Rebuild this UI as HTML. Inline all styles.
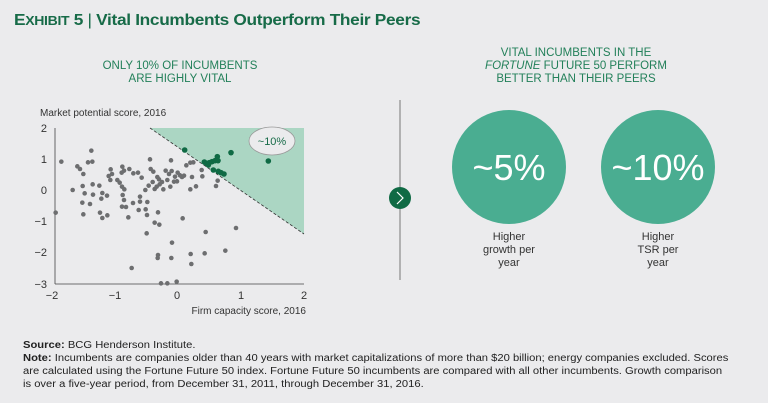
<!DOCTYPE html>
<html><head><meta charset="utf-8"><style>
body{margin:0;width:768px;height:403px;background:#ebebed;font-family:"Liberation Sans",sans-serif;overflow:hidden;position:relative}
.t{position:absolute;white-space:nowrap}
</style></head><body>
<div class="t" style="left:14px;top:12px;font-size:16px;font-weight:bold;color:#176b48;letter-spacing:-0.3px;transform:scaleX(1.08);transform-origin:left">E<span style="font-size:13px">XHIBIT</span> 5 <span style="font-weight:normal">|</span> Vital Incumbents Outperform Their Peers</div>
<div class="t" style="left:60px;top:60px;width:240px;text-align:center;font-size:11.5px;line-height:13px;color:#23805a">ONLY 10% OF INCUMBENTS<br>ARE HIGHLY VITAL</div>
<div class="t" style="left:456px;top:47px;width:240px;text-align:center;font-size:11.5px;line-height:13px;color:#23805a">VITAL INCUMBENTS IN THE<br><i>FORTUNE</i> FUTURE 50 PERFORM<br>BETTER THAN THEIR PEERS</div>
<svg width="768" height="403" style="position:absolute;left:0;top:0" id="s">
<polygon points="150,128 304,128 304,234" fill="#abd6c3"/>
<line x1="150" y1="128" x2="304" y2="234" stroke="#333" stroke-width="0.8" stroke-dasharray="3,2"/>
<line x1="55" y1="128" x2="55" y2="284" stroke="#444" stroke-width="0.8"/>
<line x1="55" y1="284" x2="304" y2="284" stroke="#444" stroke-width="0.8"/>
<g font-size="11" fill="#333" text-anchor="end">
<text x="47" y="132">2</text><text x="47" y="163">1</text><text x="47" y="194">0</text><text x="47" y="225">−1</text><text x="47" y="256">−2</text><text x="47" y="288">−3</text></g>
<g font-size="11" fill="#333" text-anchor="middle">
<text x="52" y="299">−2</text><text x="115" y="299">−1</text><text x="177" y="299">0</text><text x="241" y="299">1</text><text x="304" y="299">2</text></g>
<text x="40" y="116" font-size="10" fill="#333">Market potential score, 2016</text>
<text x="306" y="314" font-size="10" fill="#333" text-anchor="end">Firm capacity score, 2016</text>
<ellipse cx="272" cy="141" rx="23" ry="14" fill="#ebebed" stroke="#999" stroke-width="0.8"/>
<text x="272" y="145" font-size="11" fill="#176b48" text-anchor="middle">~10%</text>
<g id="dots"></g>
<line x1="400" y1="100" x2="400" y2="280" stroke="#777" stroke-width="1"/>
<circle cx="400" cy="198" r="11" fill="#0f6a44"/>
<polyline points="397,192 403,198 397,204" fill="none" stroke="#fff" stroke-width="1.2"/>
<circle cx="509" cy="167" r="57" fill="#4aad91"/>
<circle cx="658" cy="167" r="57" fill="#4aad91"/>
<text x="509" y="180" font-size="36" fill="#fff" text-anchor="middle">~5%</text>
<text x="658" y="180" font-size="36" fill="#fff" text-anchor="middle">~10%</text>
<g font-size="11" fill="#333" text-anchor="middle">
<text x="509" y="240">Higher</text><text x="509" y="253">growth per</text><text x="509" y="266">year</text>
<text x="658" y="240">Higher</text><text x="658" y="253">TSR per</text><text x="658" y="266">year</text></g>
</svg>
<div class="t" style="left:23px;top:339px;font-size:10px;line-height:13px;color:#222;transform:scaleX(1.12);transform-origin:left">
<b>Source:</b> BCG Henderson Institute.<br>
<b>Note:</b> Incumbents are companies older than 40 years with market capitalizations of more than $20 billion; energy companies excluded. Scores<br>
are calculated using the Fortune Future 50 index. Fortune Future 50 incumbents are compared with all other incumbents. Growth comparison<br>
is over a five-year period, from December 31, 2011, through December 31, 2016.</div>
<script>
var g=[184,185,274,152,264,187,277,185,232,199,240,207,250,222,218,270,248,258,254,280,247,308,250,343,270,312,278,253,279,284,298,257,307,279,304,296,300,338,307,354,321,287,322,346,167,338,326,228,332,208,336,222,331,240,352,240,359,248,367,200,365,218,372,212,388,207,400,220,414,218,425,233,366,260,373,268,368,285,372,300,366,320,378,321,399,309,385,352,416,330,420,290,420,305,437,328,442,306,441,345,436,270,446,257,450,178,452,207,460,215,458,246,464,267,472,231,477,238,479,253,470,260,474,337,478,374,486,246,490,268,497,212,502,240,507,222,513,181,515,213,511,260,522,245,525,230,533,218,540,226,531,244,546,231,552,227,559,196,571,188,580,187,576,231,571,268,588,259,548,355,440,400,464,368,474,465,473,474,514,474,516,428,572,462,574,492,614,460,617,396,676,452,708,384,395,504,483,550,502,550,530,545,607,229,605,210,648,258,653,242];
var gr=[554,150,613,186,620,190,628,188,636,185,645,182,652,170,654,182,693,158,805,183,655,214,663,218,672,222,625,195,640,210];
var h='';
for(var i=0;i<g.length;i+=2)h+='<circle cx="'+(g[i]/3)+'" cy="'+(100+g[i+1]/3)+'" r="2.3" fill="#6d6e70"/>';
for(var i=0;i<gr.length;i+=2)h+='<circle cx="'+(gr[i]/3)+'" cy="'+(100+gr[i+1]/3)+'" r="2.8" fill="#0f6a44"/>';
document.getElementById('dots').innerHTML=h;
</script>
</body></html>
